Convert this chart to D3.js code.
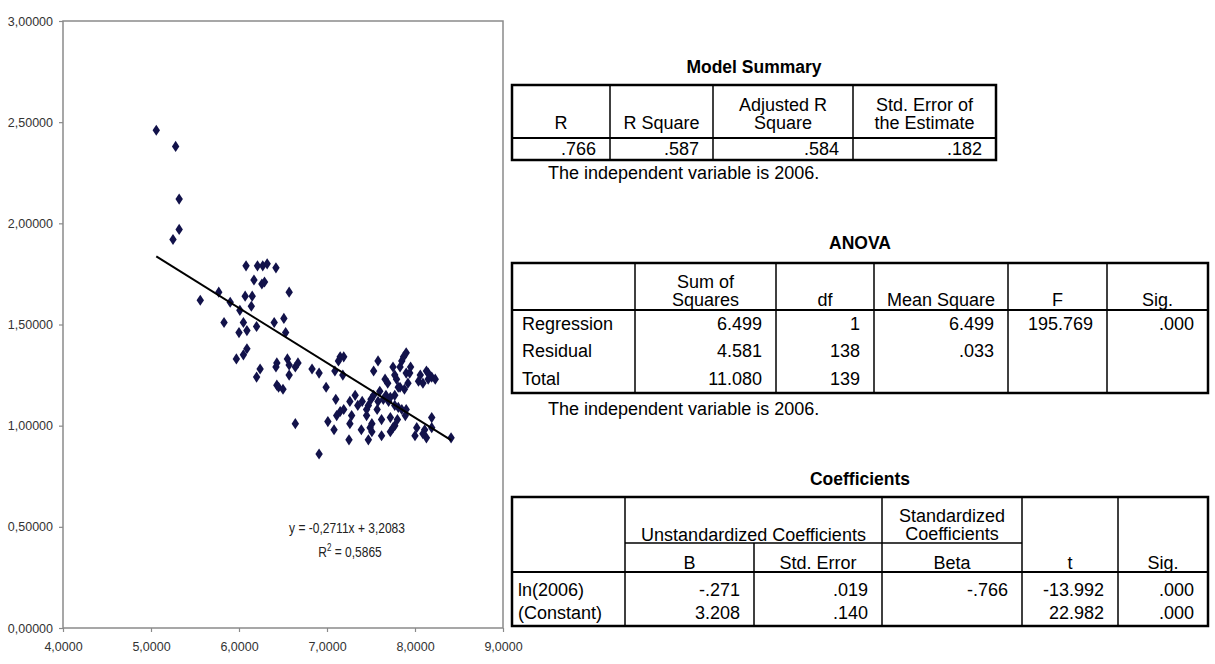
<!DOCTYPE html>
<html>
<head>
<meta charset="utf-8">
<script src="https://cdn.jsdelivr.net/npm/d3@7"></script>
<style>
  body { margin: 0; background: #fff; }
  svg { display: block; }
  text { font-family: "Liberation Sans", Arial, sans-serif; }
</style>
</head>
<body>
<div id="chart"></div>
<script>
// scatter data: ln(2006) on x, dependent ratio on y
var lnValues = [
  5.06, 5.28, 5.32, 5.32, 5.25,
  6.08, 6.21, 6.27, 6.32, 6.42, 6.17, 6.26, 6.29, 6.57, 5.77, 5.56, 5.90, 6.07, 6.15, 6.14,
  6.01, 5.83, 6.05, 6.40, 6.51, 6.20, 6.00, 6.09, 6.53, 6.09, 5.97, 6.05, 6.24, 6.20, 6.43,
  6.42, 6.55, 6.57, 6.64, 6.67, 6.83, 6.91, 6.57, 6.43, 6.45, 6.50, 6.99, 6.64, 7.01, 6.91,
  7.15, 7.19, 7.13, 7.09, 7.18, 7.10, 7.08, 7.25, 7.26, 7.15, 7.19, 7.11, 7.26, 7.32, 7.35,
  7.47, 7.45, 7.49, 7.47, 7.50, 7.53, 7.57, 7.62, 7.62, 7.58, 7.53, 7.66, 7.69, 7.58, 7.64,
  7.70, 7.72, 7.72, 7.77, 7.75, 7.79, 7.81, 7.77, 7.83, 7.85, 7.87, 7.90, 7.90, 7.92, 7.81,
  7.85, 7.90, 7.89, 8.04, 8.09, 8.15, 8.19, 8.23, 8.13, 8.02, 8.00, 8.11, 8.13, 8.19, 8.19,
  8.41, 7.77, 7.83, 7.94, 8.15, 7.72, 7.77, 7.45, 7.51, 7.75, 7.39, 7.51, 8.09, 7.60, 7.67,
  7.88, 7.95, 7.40, 7.28, 8.06, 7.80
];
var yValues = [
  2.46, 2.38, 2.12, 1.97, 1.92,
  1.79, 1.79, 1.79, 1.80, 1.78, 1.72, 1.70, 1.71, 1.66, 1.66, 1.62, 1.61, 1.64, 1.64, 1.59,
  1.57, 1.51, 1.51, 1.51, 1.53, 1.49, 1.46, 1.47, 1.46, 1.38, 1.33, 1.35, 1.28, 1.24, 1.31,
  1.29, 1.33, 1.30, 1.29, 1.31, 1.28, 1.26, 1.25, 1.20, 1.19, 1.18, 1.19, 1.01, 1.02, 0.86,
  1.34, 1.34, 1.32, 1.27, 1.25, 1.13, 0.98, 0.93, 1.01, 1.07, 1.08, 1.05, 1.12, 1.15, 1.10,
  1.10, 1.05, 0.99, 0.93, 1.13, 1.15, 1.08, 1.03, 0.95, 1.32, 1.27, 1.23, 1.21, 1.12, 1.13,
  1.12, 1.04, 0.97, 1.00, 1.29, 1.23, 1.19, 1.15, 1.29, 1.32, 1.34, 1.36, 1.26, 1.21, 1.09,
  1.08, 1.08, 1.05, 1.22, 1.21, 1.23, 1.24, 1.23, 1.27, 0.99, 0.95, 0.98, 0.94, 1.04, 0.99,
  0.94, 1.25, 1.19, 1.26, 1.26, 1.14, 1.10, 1.08, 1.01, 0.99, 0.98, 0.97, 0.96, 1.17, 1.15,
  1.18, 1.29, 1.12, 1.05, 1.25, 1.03
];
var slope = -0.2711, intercept = 3.2083, rSquared = 0.5865;
var xTicks = [4, 5, 6, 7, 8, 9];
var yTicks = [0, 0.5, 1, 1.5, 2, 2.5, 3];

// tables
var summaryHead = ["R", "R Square", "Adjusted R\nSquare", "Std. Error of\nthe Estimate"];
var summaryRows = [[".766", ".587", ".584", ".182"]];
var anovaHead = ["", "Sum of\nSquares", "df", "Mean Square", "F", "Sig."];
var anovaRows = [
  ["Regression", "6.499", "1", "6.499", "195.769", ".000"],
  ["Residual", "4.581", "138", ".033", "", ""],
  ["Total", "11.080", "139", "", "", ""]
];
var coefGroups = ["Unstandardized Coefficients", "Standardized\nCoefficients"];
var coefHead = ["", "B", "Std. Error", "Beta", "t", "Sig."];
var coefRows = [
  ["ln(2006)", "-.271", ".019", "-.766", "-13.992", ".000"],
  ["(Constant)", "3.208", ".140", "", "22.982", ".000"]
];
var footnote = "The independent variable is 2006.";

var width = 1215, height = 664;
var svg = d3.select("#chart").append("svg")
  .attr("width", width)
  .attr("height", height);
svg.append("rect").attr("width", width).attr("height", height).attr("fill", "#fff");

/* SCATTER */
var x = d3.scaleLinear().domain([4, 9]).range([63, 503]);
var y = d3.scaleLinear().domain([0, 3]).range([628, 21]);
var comma = d3.formatLocale({decimal: ",", thousands: ".", grouping: [3], currency: ["", ""], minus: "-"});

svg.append("rect")
  .attr("x", x(4)).attr("y", y(3))
  .attr("width", x(9) - x(4)).attr("height", y(0) - y(3))
  .attr("fill", "none").attr("stroke", "#8a8a8a").attr("stroke-width", 1.5);

var yAxis = svg.append("g")
  .attr("transform", "translate(" + x(4) + ",0)")
  .call(d3.axisLeft(y).tickValues(yTicks).tickSize(4).tickFormat(comma.format(".5f")));
var xAxis = svg.append("g")
  .attr("transform", "translate(0," + y(0) + ")")
  .call(d3.axisBottom(x).tickValues(xTicks).tickSize(4).tickFormat(comma.format(".4f")));
[xAxis, yAxis].forEach(function(a) {
  a.select(".domain").remove();
  a.selectAll("line").attr("stroke", "#8a8a8a").attr("stroke-width", 1.2);
  a.selectAll("text").attr("fill", "#333").style("font-size", "12.5px")
    .style("font-family", "'Liberation Sans', Arial, sans-serif");
});
yAxis.selectAll("text").attr("x", -10);
xAxis.selectAll("text").attr("y", 14);

var pts = lnValues.map(function(v, i) { return {x: v, y: yValues[i]}; });
svg.append("g").selectAll("path")
  .data(pts).enter()
  .append("path")
  .attr("d", d3.symbol().type(d3.symbolDiamond).size(36))
  .attr("transform", function(d) { return "translate(" + x(d.x) + "," + y(d.y) + ") scale(1.15,1)"; })
  .attr("fill", "#12124a");

// trend line over the range of x
var ext = d3.extent(lnValues);
svg.append("line")
  .attr("x1", x(ext[0])).attr("y1", y(slope * ext[0] + intercept))
  .attr("x2", x(ext[1])).attr("y2", y(slope * ext[1] + intercept))
  .attr("stroke", "#000").attr("stroke-width", 2);

var eq = svg.append("g").attr("transform", "translate(347,533) scale(0.8,1)");
eq.append("text").attr("text-anchor", "middle").style("font-size", "15px").attr("fill", "#222")
  .text("y = " + comma.format(".4f")(slope) + "x + " + comma.format(".4f")(intercept));
var r2 = svg.append("g").attr("transform", "translate(350,557) scale(0.8,1)");
var r2t = r2.append("text").attr("text-anchor", "middle").style("font-size", "15px").attr("fill", "#222");
r2t.append("tspan").text("R");
r2t.append("tspan").attr("dy", -6).style("font-size", "10px").text("2");
r2t.append("tspan").attr("dy", 6).text(" = " + comma.format(".4f")(rSquared));

/* TABLES */
var fs = 18;
function txt(g, s, tx, ty, anchor, bold, size) {
  return g.append("text").attr("x", tx).attr("y", ty)
    .attr("text-anchor", anchor || "start")
    .style("font-size", (size || fs) + "px")
    .style("font-weight", bold ? "bold" : "normal")
    .attr("fill", "#000").text(s);
}
function multiline(g, s, cx, baseline) {
  var lines = s.split("\n");
  lines.forEach(function(l, i) {
    txt(g, l, cx, baseline - (lines.length - 1 - i) * 18, "middle");
  });
}
function hline(g, x1, x2, yy, w) {
  g.append("line").attr("x1", x1).attr("x2", x2).attr("y1", yy).attr("y2", yy)
    .attr("stroke", "#000").attr("stroke-width", w);
}
function vline(g, xx, y1, y2, w) {
  g.append("line").attr("x1", xx).attr("x2", xx).attr("y1", y1).attr("y2", y2)
    .attr("stroke", "#000").attr("stroke-width", w);
}
function frame(g, cols, top, bottom) {
  g.append("rect").attr("x", cols[0]).attr("y", top)
    .attr("width", cols[cols.length - 1] - cols[0]).attr("height", bottom - top)
    .attr("fill", "none").attr("stroke", "#000").attr("stroke-width", 2.5);
}
// labelX: left-aligned first column, otherwise every cell right-aligned in its column
function bodyRows(g, rows, cols, baselines, labelX) {
  rows.forEach(function(r, ri) {
    r.forEach(function(c, ci) {
      if (!c) return;
      if (ci === 0 && labelX) txt(g, c, labelX, baselines[ri], "start");
      else txt(g, c, cols[ci + 1] - 14, baselines[ri], "end");
    });
  });
}

// Model Summary
var ms = svg.append("g");
var msCols = [512, 610, 713, 853, 996];
txt(ms, "Model Summary", (msCols[0] + msCols[4]) / 2, 73, "middle", true, 17.5);
frame(ms, msCols, 85, 160);
hline(ms, msCols[0], msCols[4], 138, 2);
msCols.slice(1, -1).forEach(function(c) { vline(ms, c, 85, 160, 1.5); });
summaryHead.forEach(function(h, i) { multiline(ms, h, (msCols[i] + msCols[i + 1]) / 2, 129); });
bodyRows(ms, summaryRows, msCols, [155], null);
txt(ms, footnote, 548, 179, "start");

// ANOVA
var an = svg.append("g");
var anCols = [512, 635, 776, 874, 1008, 1107, 1208];
txt(an, "ANOVA", (anCols[0] + anCols[6]) / 2, 249, "middle", true, 17.5);
frame(an, anCols, 263, 393);
hline(an, anCols[0], anCols[6], 310, 2);
anCols.slice(1, -1).forEach(function(c) { vline(an, c, 263, 393, 1.5); });
anovaHead.forEach(function(h, i) { if (h) multiline(an, h, (anCols[i] + anCols[i + 1]) / 2, 306); });
bodyRows(an, anovaRows, anCols, [330, 357, 385], 522);
txt(an, footnote, 548, 415, "start");

// Coefficients
var co = svg.append("g");
var coCols = [512, 625, 754, 882, 1022, 1118, 1208];
txt(co, "Coefficients", (coCols[0] + coCols[6]) / 2, 485, "middle", true, 17.5);
frame(co, coCols, 497, 626);
hline(co, coCols[1], coCols[4], 543, 1.5);
hline(co, coCols[0], coCols[6], 572, 2);
[coCols[1], coCols[3], coCols[4], coCols[5]].forEach(function(c) { vline(co, c, 497, 626, 1.5); });
vline(co, coCols[2], 543, 626, 1.5);
multiline(co, coefGroups[0], (coCols[1] + coCols[3]) / 2, 541);
multiline(co, coefGroups[1], (coCols[3] + coCols[4]) / 2, 540);
coefHead.forEach(function(h, i) { if (h) multiline(co, h, (coCols[i] + coCols[i + 1]) / 2, 569); });
bodyRows(co, coefRows, coCols, [596, 619], 518);
</script>
</body>
</html>
